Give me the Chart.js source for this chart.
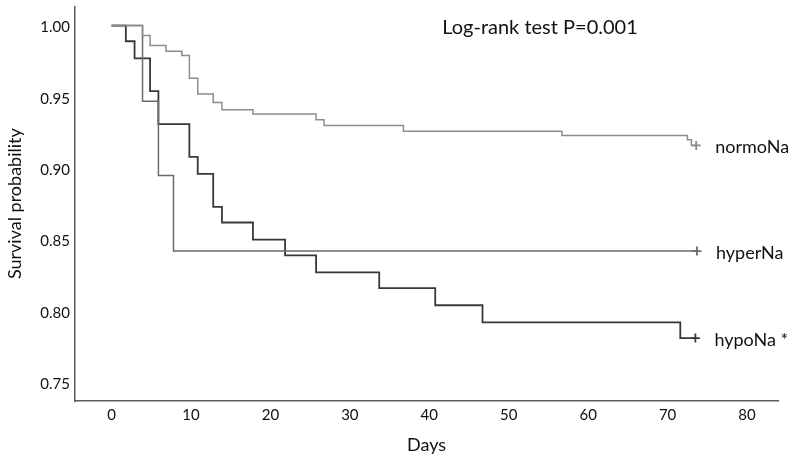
<!DOCTYPE html>
<html>
<head>
<meta charset="utf-8">
<script src="https://cdn.jsdelivr.net/npm/chart.js@4"></script>
<style>
  html, body { margin: 0; padding: 0; background: #fff; }
  #wrap { width: 793px; height: 460px; }
</style>
</head>
<body>
<div id="wrap"><canvas id="kmChart" width="793" height="460"></canvas></div>
<script>
// Kaplan-Meier steps (days, survival after the step)
var hypoDays = [0, 1.8, 2.9, 4.85, 5.9, 9.8, 10.85, 12.8, 13.9, 17.8, 21.85, 25.75, 33.7, 40.75, 46.7, 71.6, 73.5];
var hypoSurv = [1.0, 0.989, 0.977, 0.954, 0.931, 0.908, 0.896, 0.873, 0.862, 0.850, 0.839, 0.827, 0.816, 0.804, 0.792, 0.781, 0.781];

var hyperDays = [0, 3.9, 5.9, 7.8, 73.7];
var hyperSurv = [1.0, 0.947, 0.895, 0.842, 0.842];

var normoDays = [0, 3.9, 4.85, 6.85, 8.85, 9.8, 10.85, 12.8, 13.9, 17.8, 25.75, 26.75, 36.75, 56.7, 72.5, 73.0, 73.6];
var normoSurv = [1.0, 0.993, 0.986, 0.982, 0.979, 0.963, 0.952, 0.946, 0.941, 0.938, 0.934, 0.930, 0.926, 0.923, 0.920, 0.916, 0.916];

var groupNames = ['normoNa', 'hyperNa', 'hypoNa *'];
var xTicks = [0, 10, 20, 30, 40, 50, 60, 70, 80];
var yTicks = [0.75, 0.80, 0.85, 0.90, 0.95, 1.00];

var fontName = 'Lato, "Open Sans", sans-serif';

function toPoints(days, surv) {
    return days.map(function (d, i) { return { x: d, y: surv[i] }; });
}

// only the last point (censored end) gets the "+" marker
function endMarker(days) {
    return days.map(function (d, i) { return i === days.length - 1 ? 4.5 : 0; });
}

function makeSet(label, days, surv, color, width) {
    return {
        label: label,
        data: toPoints(days, surv),
        stepped: 'before',
        borderColor: color,
        borderWidth: width,
        pointStyle: 'cross',
        pointRadius: endMarker(days),
        pointBorderColor: color,
        pointBorderWidth: 1.8,
        pointHoverRadius: 0,
        fill: false
    };
}

var sideLabels = {
    id: 'sideLabels',
    afterDatasetsDraw: function (chart) {
        var ctx = chart.ctx;
        var xs = chart.scales.x, ys = chart.scales.y;
        ctx.save();
        ctx.fillStyle = '#111';
        ctx.font = '18px ' + fontName;
        ctx.textBaseline = 'middle';
        ctx.textAlign = 'left';
        chart.data.datasets.forEach(function (ds) {
            var last = ds.data[ds.data.length - 1];
            ctx.fillText(ds.label, xs.getPixelForValue(last.x) + 19, ys.getPixelForValue(last.y) + 2);
        });
        ctx.textAlign = 'center';
        ctx.font = '20px ' + fontName;
        ctx.fillText('Log-rank test P=0.001', 540, 28);
        ctx.restore();
    }
};

var ctx = document.getElementById('kmChart').getContext('2d');
new Chart(ctx, {
    type: 'line',
    data: {
        datasets: [
            makeSet(groupNames[0], normoDays, normoSurv, '#8c8c8c', 1.5),
            makeSet(groupNames[1], hyperDays, hyperSurv, '#6a6a6a', 1.5),
            makeSet(groupNames[2], hypoDays, hypoSurv, '#383838', 1.8)
        ]
    },
    options: {
        responsive: false,
        animation: false,
        layout: { padding: { left: 0, right: 15, top: 4, bottom: 0 } },
        plugins: {
            legend: { display: false },
            tooltip: { enabled: false }
        },
        scales: {
            x: {
                type: 'linear',
                min: -4.6,
                max: 83.9,
                afterBuildTicks: function (scale) {
                    scale.ticks = xTicks.map(function (v) { return { value: v }; });
                },
                afterFit: function (scale) {
                    scale.height = 59;
                    scale.paddingLeft = 0;
                    scale.paddingRight = 0;
                },
                grid: { display: false, drawTicks: false },
                border: { display: true, color: '#5a5a5a', width: 1.5 },
                ticks: { color: '#111', padding: 5, font: { family: fontName, size: 15 } },
                title: {
                    display: true,
                    text: 'Days',
                    color: '#111',
                    padding: { top: 8 },
                    font: { family: fontName, size: 18 }
                }
            },
            y: {
                type: 'linear',
                min: 0.7369,
                max: 1.0135,
                afterBuildTicks: function (scale) {
                    scale.ticks = yTicks.map(function (v) { return { value: v }; });
                },
                afterFit: function (scale) {
                    scale.width = 75;
                    scale.paddingTop = 0;
                    scale.paddingBottom = 0;
                },
                grid: { display: false, drawTicks: false },
                border: { display: true, color: '#5a5a5a', width: 1.5 },
                ticks: {
                    color: '#111',
                    padding: 5,
                    labelOffset: 2,
                    font: { family: fontName, size: 15 },
                    callback: function (v) { return v.toFixed(2); }
                },
                title: {
                    display: true,
                    text: 'Survival probability',
                    color: '#111',
                    padding: { bottom: 4 },
                    font: { family: fontName, size: 18 }
                }
            }
        }
    },
    plugins: [sideLabels]
});
</script>
</body>
</html>
